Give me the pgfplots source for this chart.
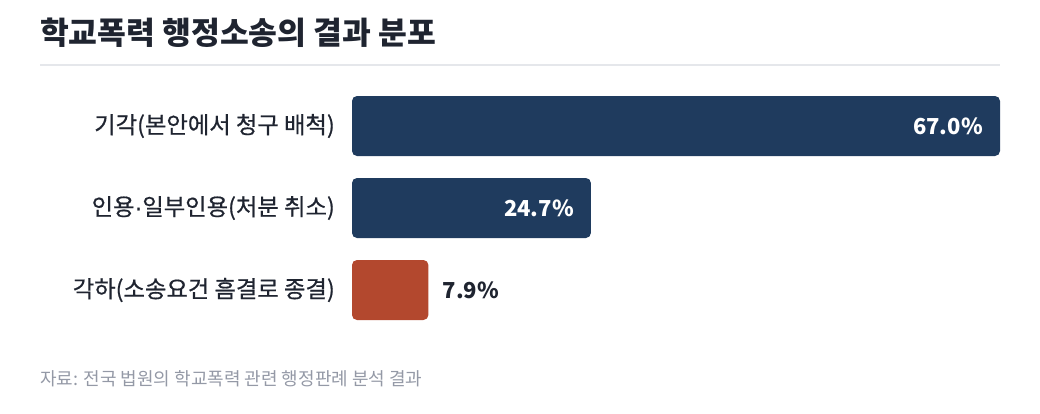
\documentclass[border=0pt]{standalone}
\usepackage{pgfplots}
\pgfplotsset{compat=1.18}
\usepackage{fontspec}
\setmainfont{Noto Sans CJK KR}
\newfontfamily\medfont[FakeBold=0.6]{Noto Sans CJK KR}
\newfontfamily\dotfont[FakeBold=0.6]{Liberation Sans}
\definecolor{navy}{HTML}{1F3B5E}
\definecolor{rust}{HTML}{B3482E}
\definecolor{txt}{HTML}{1F2430}
\definecolor{src}{HTML}{9499A6}
\definecolor{rulec}{HTML}{E5E7EB}
\begin{document}
\begin{tikzpicture}
\path[use as bounding box] (0pt,0pt) rectangle (1040pt,413pt);
\node[anchor=base west, inner sep=0pt, font=\fontsize{31.3}{33}\selectfont\bfseries, text=txt] at (40pt,368pt) {학교폭력 행정소송의 결과 분포};
\draw[rulec, line width=1.5pt] (40pt,348pt) -- (1000pt,348pt);
\begin{axis}[
  at={(352pt,82pt)}, anchor=south west,
  scale only axis, width=648pt, height=246pt,
  xmin=0, xmax=67, ymin=-0.5, ymax=2.5, y dir=reverse,
  xbar, bar width=60pt, bar shift=0pt,
  axis line style={draw=none}, tick style={draw=none}, major tick length=0pt,
  xtick=\empty, ytick={0,1,2},
  yticklabels={기각(본안에서 청구 배척), 인용{\dotfont·}일부인용(처분 취소), 각하(소송요건 흠결로 종결)},
  yticklabel style={anchor=east, inner sep=0pt, xshift=-17pt, font=\medfont\fontsize{23.3}{25}\selectfont, text=txt},
  clip=false,
  /pgf/number format/assume math mode=true,
  nodes near coords={\pgfmathprintnumber[fixed,fixed zerofill,precision=1]{\pgfplotspointmeta}\%},
]
\addplot[fill=navy, draw=none, rounded corners=5pt,
  every node near coord/.append style={anchor=east, inner sep=0pt, xshift=-17pt, text=white, font=\fontsize{22}{24}\selectfont\bfseries}]
  coordinates {(67.0,0) (24.7,1)};
\addplot[fill=rust, draw=none, rounded corners=5pt,
  every node near coord/.append style={anchor=west, inner sep=0pt, xshift=14pt, text=txt, font=\fontsize{22}{24}\selectfont\bfseries}]
  coordinates {(7.9,2)};
\end{axis}
\node[anchor=base west, inner sep=0pt, font=\fontsize{18}{19}\selectfont, text=src] at (40pt,28pt) {자료: 전국 법원의 학교폭력 관련 행정판례 분석 결과};
\end{tikzpicture}
\end{document}
